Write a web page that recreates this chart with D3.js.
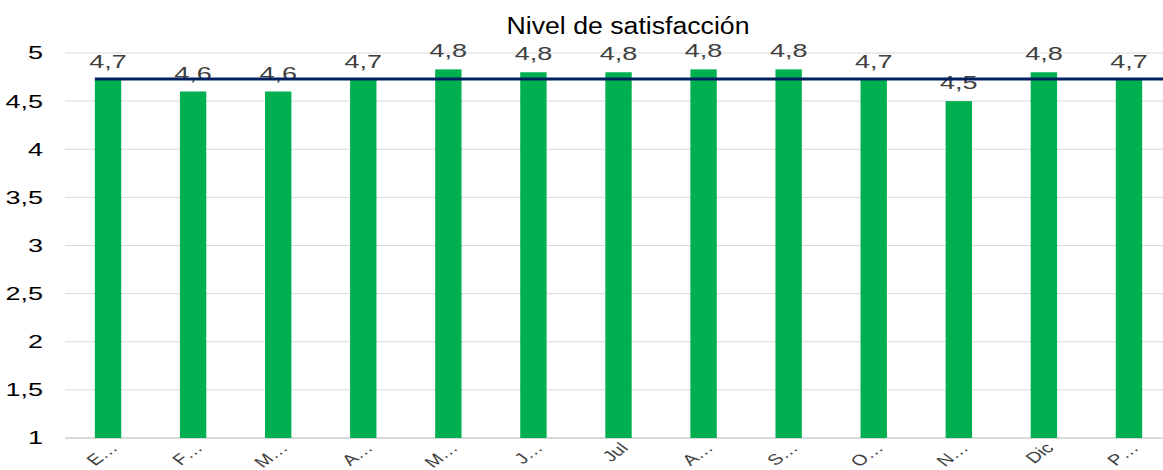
<!DOCTYPE html>
<head>
  <meta charset="utf8">
  <title>Nivel de satisfacción</title>
  <script src="https://d3js.org/d3.v7.min.js"></script>
  <style>
    body { margin: 0; background: #fff; }
    text { font-family: "Liberation Sans", Arial, sans-serif; }
  </style>
</head>
<body>
<script>
  // data
  var months = ["E…", "F…", "M…", "A…", "M…", "J…", "Jul", "A…", "S…", "O…", "N…", "Dic", "P…"];
  var values = [4.72, 4.6, 4.6, 4.72, 4.83, 4.8, 4.8, 4.83, 4.83, 4.72, 4.5, 4.8, 4.72];
  var labels = ["4,7", "4,6", "4,6", "4,7", "4,8", "4,8", "4,8", "4,8", "4,8", "4,7", "4,5", "4,8", "4,7"];
  var average = 4.73;
  var yTicks = [1, 1.5, 2, 2.5, 3, 3.5, 4, 4.5, 5];

  var width = 1163, height = 470;
  // the original text is stretched sideways
  var stretch = 1.5;

  var svg = d3.select("body").append("svg")
    .attr("width", width)
    .attr("height", height);

  var x = d3.scaleBand()
    .domain(d3.range(months.length))
    .range([65.5, 1171.5])
    .paddingInner(0.69)
    .paddingOuter(0.345);

  var y = d3.scaleLinear()
    .domain([1, 5])
    .range([438, 53]);

  var comma = function(d) { return String(d).replace(".", ","); };

  // grid lines
  svg.append("g")
    .selectAll("line")
    .data(yTicks)
    .enter().append("line")
    .attr("x1", 65).attr("x2", width)
    .attr("y1", function(d) { return y(d); })
    .attr("y2", function(d) { return y(d); })
    .attr("stroke", "#d9d9d9")
    .attr("stroke-width", function(d) { return d == 1 ? 2 : 1; });

  // y axis labels
  svg.append("g")
    .selectAll("text")
    .data(yTicks)
    .enter().append("text")
    .attr("transform", function(d) { return "translate(43," + y(d) + ") scale(" + stretch + ",1)"; })
    .attr("dy", "0.36em")
    .attr("text-anchor", "end")
    .attr("font-size", "18px")
    .attr("fill", "#000")
    .text(comma);

  // bars
  svg.append("g")
    .selectAll("rect")
    .data(values)
    .enter().append("rect")
    .attr("x", function(d, i) { return x(i); })
    .attr("y", function(d) { return y(d); })
    .attr("width", x.bandwidth())
    .attr("height", function(d) { return y(1) - y(d); })
    .attr("fill", "#00b050");

  // value labels
  svg.append("g")
    .selectAll("text")
    .data(values)
    .enter().append("text")
    .attr("transform", function(d, i) {
      return "translate(" + (x(i) + x.bandwidth() / 2) + "," + (y(d) - 12) + ") scale(" + stretch + ",1)";
    })
    .attr("text-anchor", "middle")
    .attr("font-size", "18px")
    .attr("fill", "#404040")
    .text(function(d, i) { return labels[i]; });

  // average line
  svg.append("line")
    .attr("x1", x(0))
    .attr("x2", width)
    .attr("y1", y(average))
    .attr("y2", y(average))
    .attr("stroke", "#002060")
    .attr("stroke-width", 3);

  // x labels, rotated
  svg.append("g")
    .selectAll("text")
    .data(months)
    .enter().append("text")
    .attr("transform", function(d, i) {
      return "translate(" + (x(i) + x.bandwidth() / 2) + ",441) scale(1.35,1) rotate(-45)";
    })
    .attr("text-anchor", "end")
    .attr("dy", "0.75em")
    .attr("font-size", "15px")
    .attr("fill", "#404040")
    .text(function(d) { return d; });

  // title
  svg.append("text")
    .attr("transform", "translate(628,34) scale(1.16,1)")
    .attr("text-anchor", "middle")
    .attr("font-size", "23px")
    .attr("fill", "#000")
    .text("Nivel de satisfacción");
</script>
</body>
